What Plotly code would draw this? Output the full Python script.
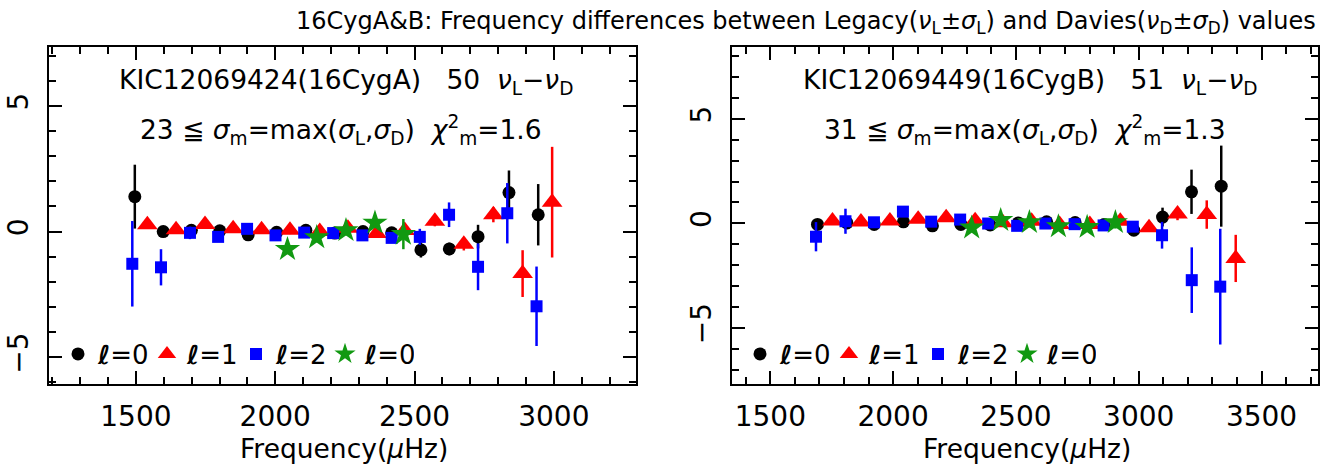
import plotly.graph_objects as go

# 16 Cyg A  (KIC12069424): nu_L - nu_D  [muHz] vs frequency [muHz]
a_l0_freq = [1496, 1598, 1699, 1801, 1903, 2005, 2110, 2214, 2315, 2418, 2523, 2625, 2728, 2839, 2944]
a_l0_diff = [1.39, 0.0, 0.05, 0.03, -0.13, -0.03, 0.05, -0.06, 0.0, -0.05, -0.73, -0.69, -0.2, 1.55, 0.67]
a_l0_err = [1.27, 0.15, 0.15, 0.15, 0.15, 0.15, 0.15, 0.15, 0.15, 0.15, 0.3, 0.25, 0.47, 0.88, 1.22]

a_l1_freq = [1541, 1644, 1748, 1849, 1951, 2053, 2160, 2261, 2364, 2465, 2573, 2677, 2783, 2888, 2994]
a_l1_diff = [0.27, 0.07, 0.28, 0.11, 0.07, 0.05, 0.0, 0.13, -0.08, 0.04, 0.41, -0.5, 0.67, -1.67, 1.17]
a_l1_err = [0.15, 0.15, 0.15, 0.15, 0.15, 0.15, 0.15, 0.15, 0.15, 0.15, 0.2, 0.25, 0.3, 0.93, 2.2]

a_l2_freq = [1487, 1590, 1694, 1795, 1899, 2001, 2104, 2208, 2313, 2418, 2519, 2624, 2728, 2833, 2938]
a_l2_diff = [-1.28, -1.42, -0.05, -0.21, 0.11, -0.15, -0.04, -0.06, -0.15, -0.25, -0.21, 0.67, -1.4, 0.73, -2.97]
a_l2_err = [1.7, 0.72, 0.25, 0.15, 0.15, 0.15, 0.15, 0.15, 0.15, 0.15, 0.32, 0.49, 0.93, 1.2, 1.58]

a_l3_freq = [2044, 2149, 2254, 2358, 2460]
a_l3_diff = [-0.7, -0.23, 0.05, 0.35, -0.1]
a_l3_err = [0.2, 0.2, 0.2, 0.2, 0.6]

# 16 Cyg B  (KIC12069449)
b_l0_freq = [1692, 1812, 1923, 2042, 2160, 2276, 2395, 2510, 2625, 2741, 2859, 2980, 3097, 3215, 3336]
b_l0_diff = [-0.05, 0.02, -0.05, 0.07, -0.12, -0.05, -0.08, 0.02, 0.07, 0.04, -0.06, -0.33, 0.3, 1.51, 1.78]
b_l0_err = [0.15, 0.15, 0.15, 0.15, 0.15, 0.15, 0.15, 0.15, 0.15, 0.15, 0.15, 0.2, 0.45, 1.06, 1.94]

b_l1_freq = [1753, 1869, 1987, 2102, 2216, 2334, 2447, 2564, 2678, 2801, 2925, 3042, 3158, 3277, 3395]
b_l1_diff = [0.11, 0.06, 0.11, 0.19, 0.27, 0.12, 0.03, 0.1, -0.05, -0.05, 0.1, -0.21, 0.45, 0.42, -1.68]
b_l1_err = [0.15, 0.15, 0.15, 0.15, 0.15, 0.15, 0.15, 0.15, 0.15, 0.15, 0.15, 0.2, 0.3, 0.68, 1.13]

b_l2_freq = [1686, 1806, 1922, 2040, 2155, 2273, 2387, 2505, 2620, 2739, 2857, 2976, 3095, 3216, 3332]
b_l2_diff = [-0.64, 0.1, 0.05, 0.56, 0.08, 0.18, -0.01, -0.12, -0.01, -0.04, -0.1, -0.16, -0.57, -2.72, -3.03]
b_l2_err = [0.7, 0.6, 0.15, 0.2, 0.15, 0.15, 0.15, 0.15, 0.15, 0.15, 0.15, 0.2, 0.64, 1.57, 2.77]

b_l3_freq = [2320, 2438, 2555, 2673, 2790, 2905]
b_l3_diff = [-0.21, 0.15, 0.05, -0.15, -0.18, 0.05]
b_l3_err = [0.2, 0.25, 0.25, 0.2, 0.2, 0.3]

legend_names = ["<b><i>ℓ</i></b>=0", "<b><i>ℓ</i></b>=1", "<b><i>ℓ</i></b>=2", "<b><i>ℓ</i></b>=0"]

FONT = "DejaVu Sans"
W, H = 1333, 468

# (symbol, size, colour) per degree
styles = [("circle", 13, "black"), ("triangle-up", 18, "red"),
          ("square", 12, "blue"), ("star", 19, "#119911")]

fig = go.Figure()


def add_panel(fig, series, xa, ya, legend):
    for (fr, df, er), (sym, size, col), name in zip(series, styles, legend_names):
        fig.add_trace(go.Scatter(
            x=fr, y=df, mode="markers", name=name,
            xaxis=xa, yaxis=ya, legend=legend,
            marker=dict(symbol=sym, size=size, color=col, line=dict(width=0)),
            error_y=dict(type="data", array=er, color=col, thickness=2.5, width=0),
        ))


add_panel(fig, [(a_l0_freq, a_l0_diff, a_l0_err), (a_l1_freq, a_l1_diff, a_l1_err),
                (a_l2_freq, a_l2_diff, a_l2_err), (a_l3_freq, a_l3_diff, a_l3_err)],
          "x", "y", "legend")
add_panel(fig, [(b_l0_freq, b_l0_diff, b_l0_err), (b_l1_freq, b_l1_diff, b_l1_err),
                (b_l2_freq, b_l2_diff, b_l2_err), (b_l3_freq, b_l3_diff, b_l3_err)],
          "x2", "y2", "legend2")

# panel frames in pixels
left_px = (49, 636)
right_px = (732, 1318)
top_px, bot_px = 47, 384


def xax(px, rng, anchor):
    return dict(domain=[px[0] / W, px[1] / W], range=rng, anchor=anchor,
                showgrid=False, zeroline=False, showline=True, linecolor="black",
                linewidth=2, mirror="allticks", ticks="inside", ticklen=13,
                tickwidth=2, tickcolor="black", dtick=500, tick0=0,
                minor=dict(dtick=100, ticks="inside", ticklen=7, tickwidth=2,
                           tickcolor="black", showgrid=False),
                tickfont=dict(family=FONT, size=28, color="black"),
                ticklabelstandoff=6)


def yax(rng, anchor):
    return dict(domain=[1 - bot_px / H, 1 - top_px / H], range=rng, anchor=anchor,
                showgrid=False, zeroline=False, showline=True, linecolor="black",
                linewidth=2, mirror="allticks", ticks="inside", ticklen=13,
                tickwidth=2, tickcolor="black", dtick=5, tick0=0,
                minor=dict(dtick=1, ticks="inside", ticklen=7, tickwidth=2,
                           tickcolor="black", showgrid=False),
                tickangle=-90,
                tickfont=dict(family=FONT, size=28, color="black"),
                ticklabelstandoff=8)


leg = dict(yanchor="middle", xanchor="left", orientation="h", entrywidth=44,
           bgcolor="rgba(0,0,0,0)", font=dict(family=FONT, size=26, color="black"))

fig.update_layout(
    width=W, height=H,
    margin=dict(l=0, r=0, t=0, b=0),
    paper_bgcolor="white", plot_bgcolor="white",
    xaxis=xax(left_px, [1188, 3295], "y"),
    yaxis=yax([-6.06, 7.34], "x"),
    xaxis2=xax(right_px, [1344, 3730], "y2"),
    yaxis2=yax([-7.69, 8.44], "x2"),
    legend=dict(x=58 / W, y=1 - 354 / H, **leg),
    legend2=dict(x=740 / W, y=1 - 354 / H, **leg),
    font=dict(family=FONT, color="black"),
)

txt = dict(showarrow=False, xanchor="center", yanchor="middle",
           font=dict(family=FONT, size=26.5, color="black"))
fig.add_annotation(text="KIC12069424(16CygA)   50  <i>ν</i><sub>L</sub>−<i>ν</i><sub>D</sub>",
                   xref="x domain", yref="y domain", x=0.506, y=0.898, **txt)
fig.add_annotation(text="23 ≦ <i>σ</i><sub>m</sub>=max(<i>σ</i><sub>L</sub>,<i>σ</i><sub>D</sub>)  <i>χ</i><sup>2</sup><sub>m</sub>=1.6",
                   xref="x domain", yref="y domain", x=0.497, y=0.755, **txt)
fig.add_annotation(text="KIC12069449(16CygB)   51  <i>ν</i><sub>L</sub>−<i>ν</i><sub>D</sub>",
                   xref="x2 domain", yref="y2 domain", x=0.509, y=0.898, **txt)
fig.add_annotation(text="31 ≦ <i>σ</i><sub>m</sub>=max(<i>σ</i><sub>L</sub>,<i>σ</i><sub>D</sub>)  <i>χ</i><sup>2</sup><sub>m</sub>=1.3",
                   xref="x2 domain", yref="y2 domain", x=0.5, y=0.755, **txt)
fig.add_annotation(text="Frequency(<i>μ</i>Hz)", xref="x domain", yref="y domain",
                   x=0.502, y=-0.19, **txt)
fig.add_annotation(text="Frequency(<i>μ</i>Hz)", xref="x2 domain", yref="y2 domain",
                   x=0.503, y=-0.19, **txt)
fig.add_annotation(text="16CygA&B: Frequency differences between Legacy(<i>ν</i><sub>L</sub>±<i>σ</i><sub>L</sub>) and Davies(<i>ν</i><sub>D</sub>±<i>σ</i><sub>D</sub>) values",
                   xref="paper", yref="paper", x=1318 / W, y=1 - 22 / H,
                   xanchor="right", yanchor="middle", showarrow=False,
                   font=dict(family=FONT, size=24, color="black"))

# the page's default body margin would shift the figure by 8 px
fig.write_html("out.html", config={"displayModeBar": False},
               post_script="document.body.style.margin='0';")
